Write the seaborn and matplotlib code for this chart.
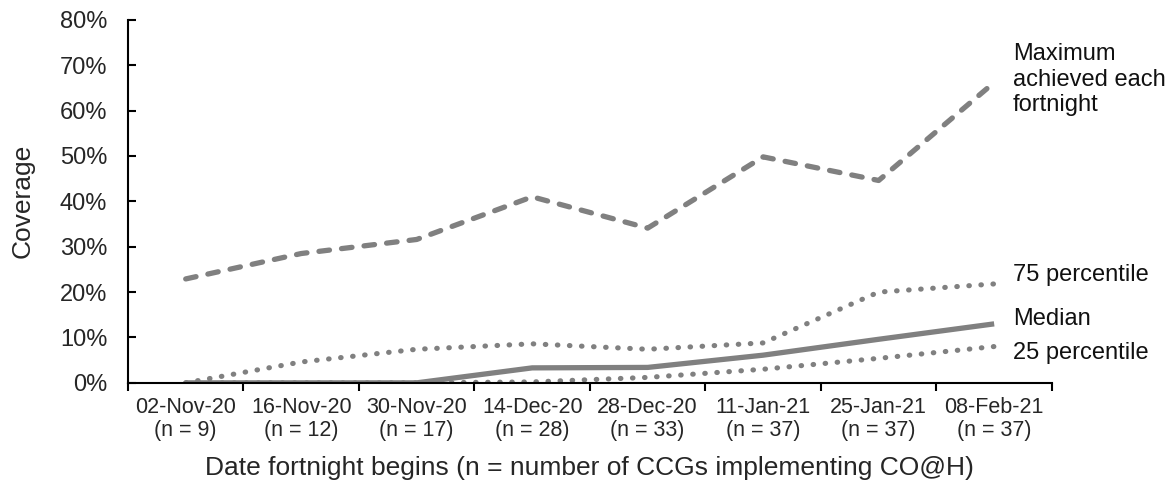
import numpy as np
import pandas as pd
import matplotlib
matplotlib.use("Agg")
import matplotlib.pyplot as plt
from matplotlib.ticker import PercentFormatter, FixedLocator
import seaborn as sns

# data
dates = ["02-Nov-20", "16-Nov-20", "30-Nov-20", "14-Dec-20",
         "28-Dec-20", "11-Jan-21", "25-Jan-21", "08-Feb-21"]
n_ccgs = [9, 12, 17, 28, 33, 37, 37, 37]
maximum = [22.9, 28.5, 31.6, 41.0, 34.1, 49.8, 44.6, 66.2]
p75 = [0.0, 4.6, 7.4, 8.6, 7.4, 8.8, 20.0, 21.8]
median = [0.0, 0.0, 0.0, 3.3, 3.4, 6.1, 9.6, 13.0]
p25 = [0.0, 0.0, 0.0, 0.2, 1.2, 3.0, 5.4, 8.0]

series = {
    "Maximum\nachieved each\nfortnight": maximum,
    "75 percentile": p75,
    "Median": median,
    "25 percentile": p25,
}

sns.set_theme(style="ticks")
plt.rcParams["font.family"] = ["Liberation Sans", "DejaVu Sans"]

fig = plt.figure(figsize=(11.74, 4.84), dpi=100)
ax = fig.add_axes([0.109, 0.209, 0.787, 0.750])

x = np.arange(len(dates))
grey = "#808080"
styles = {
    "Maximum\nachieved each\nfortnight": dict(lw=3.8, dashes=(2.0, 2.3), dash_capstyle="round"),
    "75 percentile": dict(lw=3.7, dashes=(0.1, 2.25), dash_capstyle="round"),
    "Median": dict(lw=3.8, solid_capstyle="butt"),
    "25 percentile": dict(lw=3.7, dashes=(0.1, 2.25), dash_capstyle="round"),
}
label_y = {
    "Maximum\nachieved each\nfortnight": 66.8,
    "75 percentile": 23.8,
    "Median": 14.1,
    "25 percentile": 6.6,
}

for name, vals in series.items():
    df = pd.DataFrame({"x": x, "y": vals})
    st = dict(styles[name])
    dashes = st.pop("dashes", None)
    if dashes is not None:
        st["linestyle"] = (0, dashes)
    sns.lineplot(data=df, x="x", y="y", ax=ax, color=grey, **st)
    ax.text(7.16, label_y[name], name, fontsize=17, va="center", ha="left",
            color="#111111", linespacing=1.22, clip_on=False)

ax.set_xlim(-0.5, 7.5)
ax.set_ylim(0, 80)
ax.yaxis.set_major_locator(FixedLocator(np.arange(0, 81, 10)))
ax.yaxis.set_major_formatter(PercentFormatter(decimals=0))

ax.set_xticks(x)
ax.set_xticklabels([f"{d}\n(n = {n})" for d, n in zip(dates, n_ccgs)],
                   fontsize=15.5, linespacing=1.12)
ax.set_xticks(np.arange(-0.5, 8, 1), minor=True)
ax.tick_params(axis="x", which="major", length=0, pad=10)
ax.tick_params(axis="x", which="minor", length=6, width=1.5, color="black", direction="out")
ax.tick_params(axis="y", labelsize=17, length=6, width=1.5, color="black",
               direction="in", pad=15)

for s in ["top", "right"]:
    ax.spines[s].set_visible(False)
for s in ["left", "bottom"]:
    ax.spines[s].set_linewidth(1.5)
    ax.spines[s].set_color("black")

ax.set_xlabel("Date fortnight begins (n = number of CCGs implementing CO@H)",
              fontsize=19, labelpad=11)
ax.set_ylabel("Coverage", fontsize=19, labelpad=18)

fig.savefig("out.png", dpi=100, facecolor="white")
